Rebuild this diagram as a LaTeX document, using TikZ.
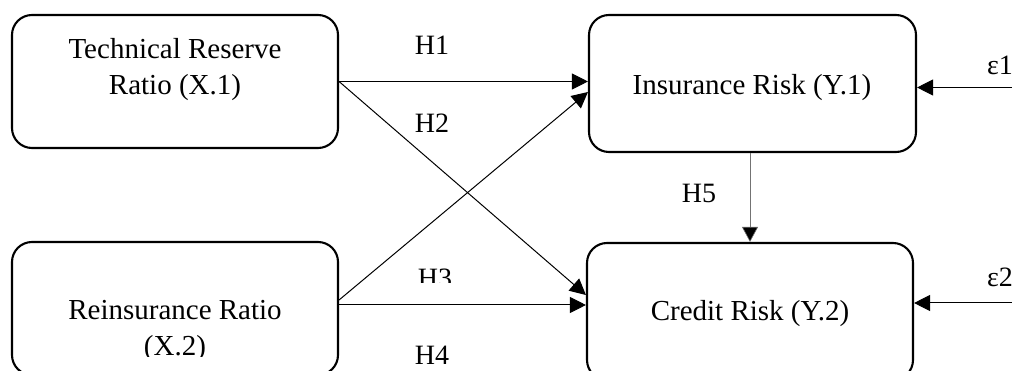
\documentclass[tikz,border=0pt]{standalone}
\usepackage{fontspec}
\setmainfont{Liberation Serif}
\usetikzlibrary{arrows.meta}
\begin{document}
\begin{tikzpicture}[x=1pt,y=-1pt,
  box/.style={draw,line width=2.1pt,rounded corners=20pt,inner sep=0pt},
  txt/.style={font=\fontsize{29}{36}\selectfont,align=center,inner sep=0pt},
  hyp/.style={font=\fontsize{28}{34}\selectfont,inner sep=0pt},
  conn/.style={line width=1pt,-{Triangle[length=16pt,width=16pt]}},
  thin/.style={line width=0.6pt,draw=black!55,-{Triangle[length=15pt,width=16pt,fill=black]}}]
\useasboundingbox (0,0) rectangle (1012,371);
\clip (0,0) rectangle (1012,371);
% boxes
\node[box,minimum width=326pt,minimum height=133pt] (X1) at (175,81.5) {};
\node[box,minimum width=326pt,minimum height=133pt] (X2) at (175,308.5) {};
\node[box,minimum width=327pt,minimum height=137pt] (Y1) at (752.5,83.5) {};
\node[box,minimum width=326pt,minimum height=137pt] (Y2) at (750,311.5) {};
% texts
\node[txt] (tX1) at (175,70) {Technical Reserve\\Ratio (X.1)};
\begin{scope}
\clip (0,0) rectangle (1012,356);
\node[txt] (tX2) at (175,330.5) {Reinsurance Ratio\\(X.2)};
\end{scope}
\node[txt] (tY1) at (752,88) {Insurance Risk (Y.1)};
\node[txt] (tY2) at (750,314) {Credit Risk (Y.2)};
% free ends
\coordinate (e1) at (1012,87.5);
\coordinate (e2) at (1012,303);
% connectors
\draw[conn] (X1.east) -- (X1.east -| Y1.west);
\draw[conn] (X1.east) -- ([yshift=16.5pt]Y2.west);
\draw[conn] ([yshift=8.5pt]X2.east) -- ([yshift=-8.5pt]Y1.west);
\draw[conn] ([yshift=3.5pt]X2.east) -- ([yshift=6.5pt]Y2.west);
\draw[thin] (Y1.south -| Y2.north) -- (Y2.north);
\draw[conn] (e1) -- (e1 -| Y1.east);
\draw[conn] (e2) -- (e2 -| Y2.east);
% labels
\node[hyp] (h1) at (432,45) {H1};
\node[hyp] (h2) at (432,123) {H2};
\begin{scope}
\clip (0,0) rectangle (1012,283);
\node[hyp] (h3) at (435,278) {H3};
\end{scope}
\node[hyp] (h4) at (432,355) {H4};
\node[hyp] (h5) at (699,193) {H5};
\node[hyp,anchor=west] (l1) at (987,65) {ε1};
\node[hyp,anchor=west] (l2) at (987,277) {ε2};
\end{tikzpicture}
\end{document}
